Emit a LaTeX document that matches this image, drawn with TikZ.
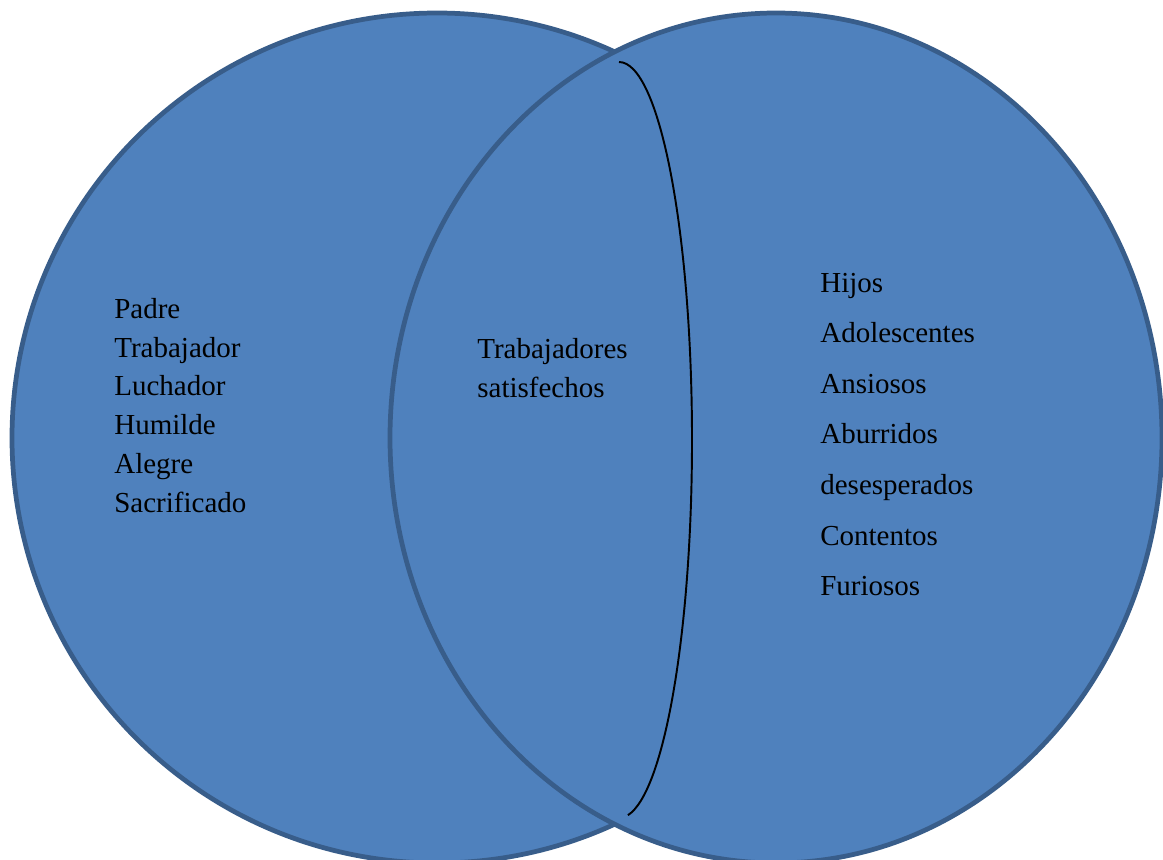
\documentclass[tikz,border=0pt]{standalone}
\usepackage{fontspec}
\setmainfont{Liberation Serif}
\definecolor{setfill}{HTML}{4F81BD}
\definecolor{setline}{HTML}{385D8A}

\begin{document}
\begin{tikzpicture}[x=0.02cm, y=-0.02cm,
                set/.style = {draw=setline, fill=setfill, line width=2.7pt},
                word/.style = {anchor=base west, inner sep=0pt, font=\fontsize{16.5}{20}\selectfont}]
                \useasboundingbox (0,0) rectangle (1163,859);
                \draw[set] (437,438) circle [radius=425];
                \draw[set] (776,438) ellipse [x radius=386, y radius=425];
                \draw[line width=1.1pt] (619,62) arc [start angle=-90, end angle=83, x radius=73, y radius=378];

                \node[word] at (114,318) (padre) {Padre};
                \node[word] at (114,357) (trabajador) {Trabajador};
                \node[word] at (114,395) (luchador) {Luchador};
                \node[word] at (114,434) (humilde) {Humilde};
                \node[word] at (114,473) (alegre) {Alegre};
                \node[word] at (114,512) (sacrificado) {Sacrificado};

                \node[word] at (477,358) (trabajadores) {Trabajadores};
                \node[word] at (477,397) (satisfechos) {satisfechos};

                \node[word] at (820,292) (hijos) {Hijos};
                \node[word] at (820,342) (adolescentes) {Adolescentes};
                \node[word] at (820,393) (ansiosos) {Ansiosos};
                \node[word] at (820,443) (aburridos) {Aburridos};
                \node[word] at (820,494) (desesperados) {desesperados};
                \node[word] at (820,545) (contentos) {Contentos};
                \node[word] at (820,595) (furiosos) {Furiosos};
            \end{tikzpicture}
\end{document}
